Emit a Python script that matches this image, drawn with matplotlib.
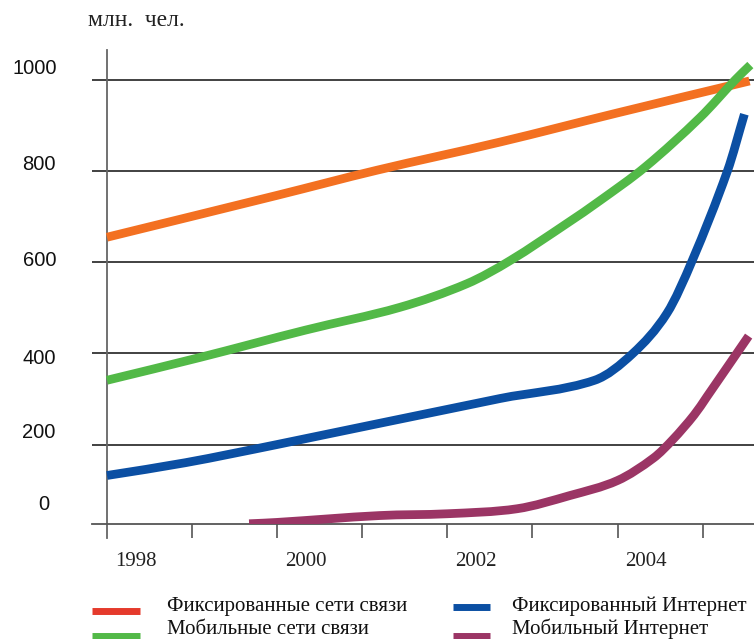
import matplotlib
matplotlib.use("Agg")
import matplotlib.pyplot as plt
import matplotlib.transforms as mtransforms
from matplotlib.path import Path
from matplotlib.patches import PathPatch

# Data (years, million people)
fixed_phone_x = [1998.0, 2000.0, 2001.17, 2002.62, 2004.0, 2005.55]
fixed_phone_y = [655, 747, 802, 864, 928, 998]

mobile_phone_x = [1998.0, 1999.09, 2000.33, 2001.44, 2002.23, 2002.74, 2003.41, 2003.79, 2004.33, 2004.97, 2005.38, 2005.56]
mobile_phone_y = [341, 391, 451, 501, 553, 604, 686, 735, 810, 918, 1000, 1033]

fixed_inet_x = [1998.0, 1998.92, 2000.0, 2002.62, 2003.73, 2004.18, 2004.58, 2004.88, 2005.29, 2005.49]
fixed_inet_y = [132, 160, 200, 301, 341, 400, 488, 605, 800, 925]

mobile_inet_x = [1999.67, 2000.0, 2001.2, 2002.0, 2002.82, 2003.44, 2004.0, 2004.42, 2004.65, 2004.9, 2005.05, 2005.54]
mobile_inet_y = [26, 29, 44, 48, 59, 88, 121, 170, 211, 265, 305, 438]

ytick_values = [1000, 800, 600, 400, 200, 0]
xtick_years = [1998, 2000, 2002, 2004]
legend_labels = ["Фиксированные сети связи", "Мобильные сети связи",
                 "Фиксированный Интернет", "Мобильный Интернет"]

ORANGE = "#f37021"
GREEN = "#52b947"
BLUE = "#0b4fa3"
PURPLE = "#9b3565"
LEGEND_RED = "#e53a2c"


def smooth_path(xs, ys):
    # bezier through the points, slopes from neighbouring points
    n = len(xs)
    slopes = []
    for i in range(n):
        a, b = max(i - 1, 0), min(i + 1, n - 1)
        slopes.append((ys[b] - ys[a]) / (xs[b] - xs[a]))
    verts = [(xs[0], ys[0])]
    codes = [Path.MOVETO]
    for i in range(n - 1):
        h = (xs[i + 1] - xs[i]) / 3
        verts += [(xs[i] + h, ys[i] + slopes[i] * h),
                  (xs[i + 1] - h, ys[i + 1] - slopes[i + 1] * h),
                  (xs[i + 1], ys[i + 1])]
        codes += [Path.CURVE4] * 3
    return Path(verts, codes)


W, H = 754, 639
fig = plt.figure(figsize=(W / 100, H / 100), dpi=100)

# axes box in pixels: left 92, right 754, top 50, bottom 524
ax = fig.add_axes([92 / W, (H - 524) / H, (754 - 92) / W, (524 - 50) / H])
ax.set_xlim(1997.824, 2005.603)
ax.set_ylim(25.5, 1066)

for s in ["top", "right", "left"]:
    ax.spines[s].set_visible(False)
ax.spines["bottom"].set_color("#555555")
ax.spines["bottom"].set_linewidth(1.3)

for v in [200, 400, 600, 800, 1000]:
    ax.axhline(v, color="#333333", lw=1.3, zorder=1)

# vertical axis at 1998, extending below the bottom axis
ax.axvline(1998, ymin=-14 / 474, ymax=1, color="#666666", lw=1.3, clip_on=False, zorder=1)

ax.set_xticks(range(1999, 2006))
ax.set_xticklabels([])
ax.tick_params(axis="x", length=10, width=1.2, color="#555555", direction="out")
ax.set_yticks([])

series = [(fixed_phone_x, fixed_phone_y, ORANGE),
          (mobile_phone_x, mobile_phone_y, GREEN),
          (fixed_inet_x, fixed_inet_y, BLUE),
          (mobile_inet_x, mobile_inet_y, PURPLE)]
for xs, ys, c in series:
    ax.add_patch(PathPatch(smooth_path(xs, ys), facecolor="none", edgecolor=c,
                           lw=6.3, capstyle="butt", joinstyle="round", zorder=3))

# x labels, left-aligned a little right of the tick
trans = mtransforms.blended_transform_factory(ax.transData, fig.transFigure)
for yr in xtick_years:
    t = ax.text(yr, (H - 561) / H, str(yr), ha="left", va="center",
                fontsize=15, family="Liberation Serif", color="#222222")
    t.set_transform(trans + mtransforms.ScaledTranslation(8 / 100, 0, fig.dpi_scale_trans))

# y labels (pixel centres as in the reference)
ylabel_px = [(57, 68), (56, 164.5), (56, 261), (56, 359), (55, 432.5), (49, 505)]
for v, (px, py) in zip(ytick_values, ylabel_px):
    fig.text(px / W, (H - py) / H, str(v), ha="right", va="center",
             fontsize=14.5, family="Liberation Sans", color="#111111")

fig.text(88 / W, (H - 21) / H, "млн.  чел.", ha="left", va="center",
         fontsize=17, family="Liberation Serif", color="#222222")

# legend
legend_colors = [LEGEND_RED, GREEN, BLUE, PURPLE]
patch_x = [(92, 140), (92, 140), (453, 490), (453, 490)]
patch_y = [611, 636, 607, 636]
text_x = [167, 167, 512, 512]
text_y = [606, 629, 606, 629]
for lab, c, (x0, x1), py, tx, ty in zip(legend_labels, legend_colors, patch_x, patch_y, text_x, text_y):
    fig.add_artist(plt.Line2D([x0 / W, x1 / W], [(H - py) / H] * 2, color=c, lw=5,
                              solid_capstyle="butt", transform=fig.transFigure))
    fig.text(tx / W, (H - ty) / H, lab, ha="left", va="center",
             fontsize=15, family="Liberation Serif", color="#111111")

fig.savefig("out.png", dpi=100)
